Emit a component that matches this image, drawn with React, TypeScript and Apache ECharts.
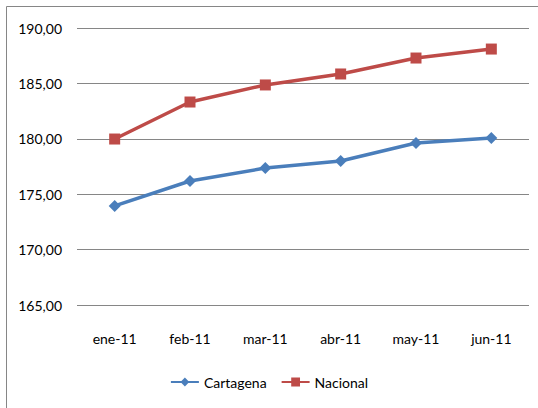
import React, { useEffect, useRef } from "react";
import * as echarts from "echarts";

const categories = ["ene-11", "feb-11", "mar-11", "abr-11", "may-11", "jun-11"];
const cartagena = [173.94, 176.19, 177.36, 178.0, 179.62, 180.07];
const nacional = [179.98, 183.32, 184.86, 185.85, 187.29, 188.1];
const yTicks = { min: 165, max: 190, interval: 5 };

const FONT = "Lato, 'Open Sans', sans-serif";
const FS = 14;

export default function App() {
  const ref = useRef<HTMLDivElement>(null);
  useEffect(() => {
    if (!ref.current) return;
    const chart = echarts.init(ref.current, undefined, { renderer: "svg" });
    chart.setOption({
      animation: false,
      backgroundColor: "#ffffff",
      textStyle: { fontFamily: FONT },
      graphic: [
        {
          type: "rect",
          shape: { x: 6.5, y: 6.5, width: 600, height: 500 },
          style: { fill: "none", stroke: "#868686", lineWidth: 1 },
          silent: true,
        },
      ],
      grid: { left: 77, right: 9, top: 28, bottom: 103, containLabel: false },
      legend: {
        bottom: 14,
        left: "center",
        itemWidth: 28,
        itemHeight: 11,
        itemGap: 14,
        textStyle: { fontFamily: FONT, fontSize: FS, color: "#000" },
        data: ["Cartagena", "Nacional"],
      },
      xAxis: {
        type: "category",
        data: categories,
        boundaryGap: true,
        axisLine: { show: false },
        axisTick: { show: false },
        axisLabel: { color: "#000", fontSize: FS, fontFamily: FONT, margin: 26 },
      },
      yAxis: {
        type: "value",
        min: yTicks.min,
        max: yTicks.max,
        interval: yTicks.interval,
        axisLine: { show: false },
        axisTick: { show: false },
        splitLine: { lineStyle: { color: "#868686", width: 1 } },
        axisLabel: {
          color: "#000",
          fontSize: FS,
          fontFamily: FONT,
          margin: 15,
          formatter: (v: number) => v.toFixed(2).replace(".", ","),
        },
      },
      series: [
        {
          name: "Cartagena",
          type: "line",
          data: cartagena,
          symbol: "diamond",
          symbolSize: 12,
          lineStyle: { color: "#4A7EBB", width: 3.5 },
          itemStyle: { color: "#4A7EBB" },
        },
        {
          name: "Nacional",
          type: "line",
          data: nacional,
          symbol: "rect",
          symbolSize: 11,
          lineStyle: { color: "#BE4B48", width: 3.5 },
          itemStyle: { color: "#BE4B48" },
        },
      ],
    });
    return () => chart.dispose();
  }, []);
  return (
    <div
      ref={ref}
      style={{ position: "fixed", left: 0, top: 0, width: 538, height: 408 }}
    />
  );
}
